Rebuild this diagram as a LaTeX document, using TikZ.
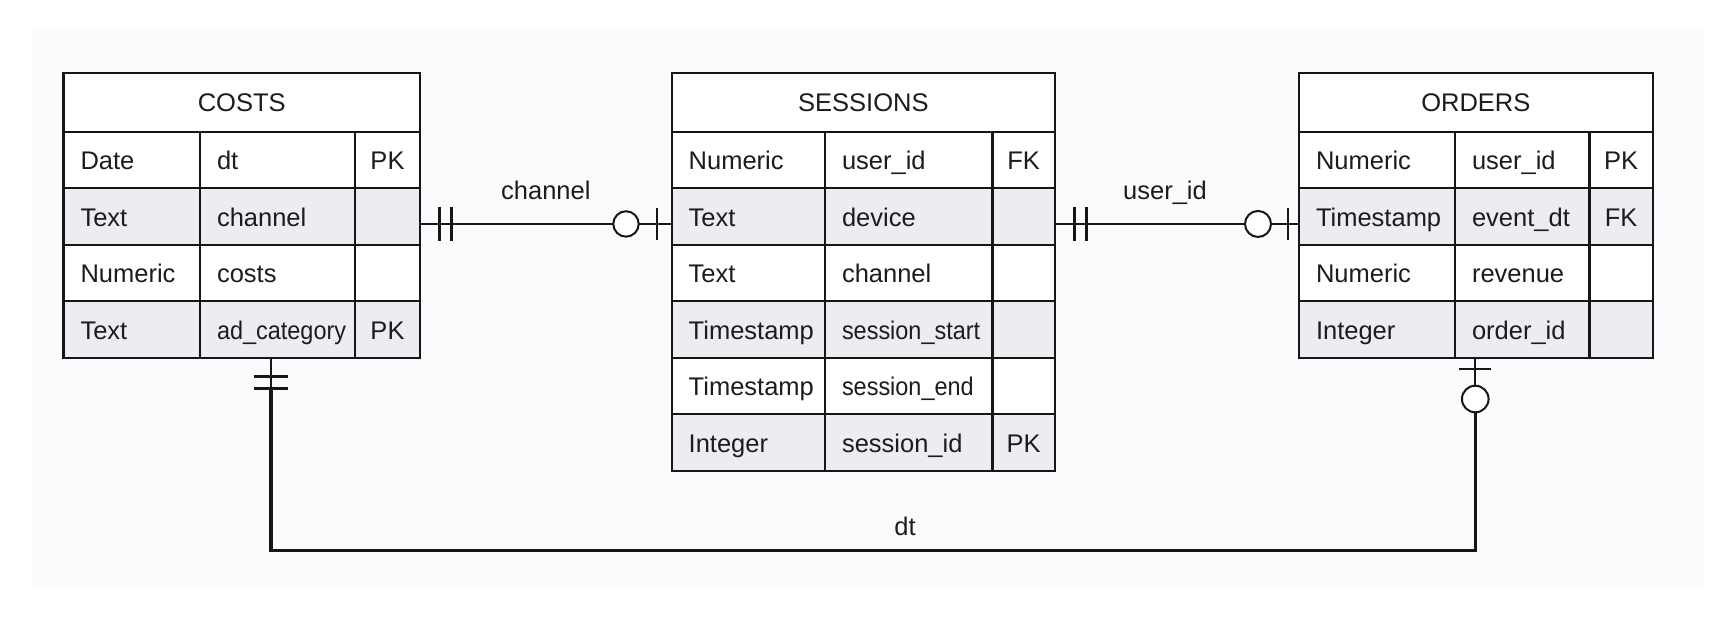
\documentclass[tikz,border=0pt]{standalone}
\usepackage{fontspec}
\setmainfont{Liberation Sans}
\usepackage{graphicx}
\definecolor{linec}{RGB}{22,22,22}
\definecolor{textc}{RGB}{28,28,28}
\definecolor{rowg}{RGB}{236,237,243}
\definecolor{bgc}{RGB}{250,251,253}
\tikzset{
  cell/.style={draw=linec, line width=2.4pt, anchor=north west, inner ysep=0pt, outer sep=0pt,
               minimum height=56.5pt, text height=22pt, text depth=2pt, text=textc},
  lcell/.style={cell, inner xsep=17pt, align=left},
  ccell/.style={cell, inner xsep=4pt, align=center},
  hdr/.style={cell, fill=white, minimum height=59pt, text height=20pt, text depth=2.4pt, inner xsep=4pt, align=center},
  rel/.style={draw=linec, line width=1.8pt},
  relthick/.style={draw=linec, line width=3.2pt},
  barmark/.style={draw=linec, line width=3pt},
  barone/.style={draw=linec, line width=2pt},
  ring/.style={draw=linec, line width=2pt, fill=white},
  lbl/.style={anchor=base, text=textc, inner sep=0pt}
}
\begin{document}
\begin{tikzpicture}[x=1pt,y=-1pt,font=\fontsize{25.5pt}{30pt}\selectfont]
\useasboundingbox (0,0) rectangle (1736,618);
\fill[bgc] (33,30) rectangle (1703,588);

% COSTS
\node[hdr, minimum width=356.5pt, text width=348.5pt] (costs) at (63.5,72.7) {COSTS};
\foreach \i/\ta/\tb/\tc/\fc in {1/Date/dt/PK/white, 2/Text/channel//rowg, 3/Numeric/costs//white, 4/Text/{\scalebox{0.92}[1]{ad\_category}}/PK/rowg} {
  \node[lcell, fill=\fc, minimum width=136.5pt, text width=102.5pt] (c-\i-1) at (63.5,{131.7+(\i-1)*56.5}) {\ta};
  \node[lcell, fill=\fc, minimum width=155pt, text width=121pt] (c-\i-2) at (200,{131.7+(\i-1)*56.5}) {\tb};
  \node[ccell, fill=\fc, minimum width=65pt, text width=57pt] (c-\i-3) at (355,{131.7+(\i-1)*56.5}) {\tc};
}

% SESSIONS
\node[hdr, minimum width=383.3pt, text width=375.3pt] (sessions) at (671.7,72.7) {SESSIONS};
\foreach \i/\ta/\tb/\tc/\fc in {1/Numeric/user\_id/FK/white, 2/Text/device//rowg, 3/Text/channel//white, 4/Timestamp/{\scalebox{0.92}[1]{session\_start}}//rowg, 5/Timestamp/{\scalebox{0.92}[1]{session\_end}}//white, 6/Integer/session\_id/PK/rowg} {
  \node[lcell, fill=\fc, minimum width=153.3pt, text width=119.3pt] (s-\i-1) at (671.7,{131.7+(\i-1)*56.5}) {\ta};
  \node[lcell, fill=\fc, minimum width=167.3pt, text width=133.3pt] (s-\i-2) at (825,{131.7+(\i-1)*56.5}) {\tb};
  \node[ccell, fill=\fc, minimum width=62.7pt, text width=54.7pt] (s-\i-3) at (992.3,{131.7+(\i-1)*56.5}) {\tc};
}

% ORDERS
\node[hdr, minimum width=353.7pt, text width=345.7pt] (orders) at (1299,72.7) {ORDERS};
\foreach \i/\ta/\tb/\tc/\fc in {1/Numeric/user\_id/PK/white, 2/Timestamp/event\_dt/FK/rowg, 3/Numeric/revenue//white, 4/Integer/order\_id//rowg} {
  \node[lcell, fill=\fc, minimum width=156pt, text width=122pt] (o-\i-1) at (1299,{131.7+(\i-1)*56.5}) {\ta};
  \node[lcell, fill=\fc, minimum width=134.3pt, text width=100.3pt] (o-\i-2) at (1455,{131.7+(\i-1)*56.5}) {\tb};
  \node[ccell, fill=\fc, minimum width=63.7pt, text width=55.7pt] (o-\i-3) at (1589.3,{131.7+(\i-1)*56.5}) {\tc};
}

% channel relation
\coordinate (ch-a) at ([yshift=-7.5pt]c-2-3.east);
\coordinate (ch-b) at ([yshift=-7.5pt]s-2-1.west);
\draw[rel] (ch-a) -- node[lbl, pos=0.5, yshift=24.7pt] (chl) {channel} (ch-b);
\draw[barmark] ([xshift=19.3pt,yshift=17pt]ch-a) -- ([xshift=19.3pt,yshift=-17pt]ch-a);
\draw[barmark] ([xshift=31.7pt,yshift=17pt]ch-a) -- ([xshift=31.7pt,yshift=-17pt]ch-a);
\draw[ring] ([xshift=-45.7pt]ch-b) circle[radius=12.7pt];
\draw[barone] ([xshift=-15pt,yshift=16pt]ch-b) -- ([xshift=-15pt,yshift=-16pt]ch-b);

% user_id relation
\coordinate (ui-a) at ([yshift=-7.5pt]s-2-3.east);
\coordinate (ui-b) at ([yshift=-7.5pt]o-2-1.west);
\draw[rel] (ui-a) -- node[lbl, pos=0.5, xshift=-12pt, yshift=24.7pt] (uil) {user\_id} (ui-b);
\draw[barmark] ([xshift=19.7pt,yshift=17pt]ui-a) -- ([xshift=19.7pt,yshift=-17pt]ui-a);
\draw[barmark] ([xshift=31.7pt,yshift=17pt]ui-a) -- ([xshift=31.7pt,yshift=-17pt]ui-a);
\draw[ring] ([xshift=-41pt]ui-b) circle[radius=13pt];
\draw[barone] ([xshift=-11pt,yshift=16pt]ui-b) -- ([xshift=-11pt,yshift=-16pt]ui-b);

% dt relation
\coordinate (dt-a) at ([xshift=-6.5pt]c-4-2.south);
\coordinate (dt-b) at ([xshift=-46.9pt]o-4-2.south);
\draw[rel] (dt-a) -- ([yshift=-31pt]dt-a);
\draw[relthick] ([yshift=-31pt]dt-a) -- ++(0,162) -| ([yshift=-54.6pt]dt-b);
\draw[rel] (dt-b) -- ([yshift=-28pt]dt-b);
\draw[barmark] ([xshift=-17pt,yshift=-18.5pt]dt-a) -- ([xshift=17pt,yshift=-18.5pt]dt-a);
\draw[barmark] ([xshift=-17pt,yshift=-31pt]dt-a) -- ([xshift=17pt,yshift=-31pt]dt-a);
\draw[barone] ([xshift=-16pt,yshift=-11pt]dt-b) -- ([xshift=16pt,yshift=-11pt]dt-b);
\draw[ring] ([yshift=-41.3pt]dt-b) circle[radius=13.3pt];
\node[lbl] (dtl) at (905,535) {dt};
\end{tikzpicture}
\end{document}
